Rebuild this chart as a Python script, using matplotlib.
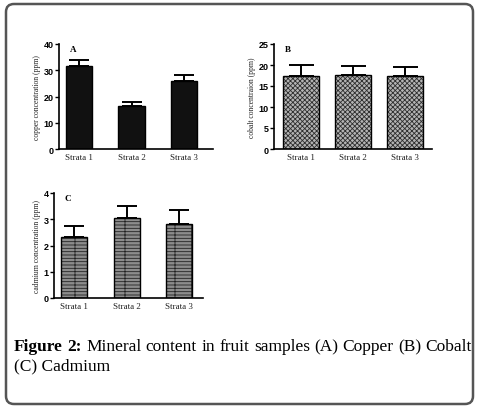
import matplotlib
matplotlib.use('Agg')
import matplotlib.pyplot as plt
from matplotlib.patches import FancyBboxPatch
from matplotlib.transforms import IdentityTransform

strata = ['Strata 1', 'Strata 2', 'Strata 3']
copper = [31.5, 16.4, 25.8]
copper_err = [2.3, 1.5, 2.3]
cobalt = [17.3, 17.6, 17.5]
cobalt_err = [2.8, 2.1, 2.0]
cadmium = [2.34, 3.05, 2.82]
cadmium_err = [0.39, 0.44, 0.54]

serif = ['Liberation Serif', 'DejaVu Serif']
sans = ['Liberation Sans', 'DejaVu Sans']
plt.rcParams['hatch.linewidth'] = 0.6

W, H = 478, 410
fig = plt.figure(figsize=(W / 100, H / 100), dpi=100)


def px(l, r, t, b):
    return [l / W, 1 - b / H, (r - l) / W, (b - t) / H]


def panel(rect, vals, errs, ymax, yticks, ylabel, letter, width, xlim, fc, hatch, hc, cap):
    ax = fig.add_axes(rect)
    x = range(len(vals))
    bars = ax.bar(x, vals, width=width, color=fc, edgecolor='black', linewidth=1.0,
                  hatch=hatch, zorder=2)
    for b in bars:
        b._hatch_color = matplotlib.colors.to_rgba(hc)
    ax.errorbar(x, vals, yerr=[[0] * len(vals), errs], fmt='none', ecolor='black',
                elinewidth=1.4, capsize=cap, capthick=1.4, zorder=1)
    ax.set_ylim(0, ymax)
    ax.set_xlim(*xlim)
    ax.set_yticks(yticks)
    ax.set_xticks(list(x))
    ax.set_xticklabels(strata, fontsize=6.5, family=serif, color='#222222')
    for t in ax.get_yticklabels():
        t.set_fontsize(6.5)
        t.set_fontweight('bold')
        t.set_family(sans)
    ax.set_ylabel(ylabel, fontsize=5.5, family=serif, labelpad=2, color='#222222')
    ax.spines['top'].set_visible(False)
    ax.spines['right'].set_visible(False)
    ax.spines['left'].set_linewidth(1.2)
    ax.spines['bottom'].set_linewidth(1.2)
    ax.tick_params(axis='y', length=3, width=1.0, pad=1)
    ax.tick_params(axis='x', length=0, pad=3)
    ax.text(0.07, 0.99, letter, transform=ax.transAxes, fontsize=6.5, fontweight='bold',
            family=serif, va='top', ha='left')
    return ax


panel(px(59, 213, 45, 150), copper, copper_err, 40, [0, 10, 20, 30, 40],
      'copper concentration (ppm)', 'A', 0.5, (-0.38, 2.55), '#111111', None, '#111111', 7)
panel(px(274, 432, 45, 150), cobalt, cobalt_err, 25, [0, 5, 10, 15, 20, 25],
      'cobalt concentraion (ppm)', 'B', 0.69, (-0.52, 2.51), '#b4b4b4', 'xxxxxxx', '#2e2e2e', 9)
panel(px(54, 203, 194, 299), cadmium, cadmium_err, 4, [0, 1, 2, 3, 4],
      'cadmium concentration (ppm)', 'C', 0.5, (-0.39, 2.46), '#8c8c8c', '-----|', '#222222', 7)

# caption, justified first line
renderer = fig.canvas.get_renderer()
line1 = [('Figure', 'bold'), ('2:', 'bold'), ('Mineral', 'normal'), ('content', 'normal'),
         ('in', 'normal'), ('fruit', 'normal'), ('samples', 'normal'), ('(A)', 'normal'),
         ('Copper', 'normal'), ('(B)', 'normal'), ('Cobalt', 'normal')]
x0, x1 = 14 / W, 472 / W
y1 = 1 - 351 / H
texts = []
for word, wt in line1:
    t = fig.text(0, y1, word, fontsize=12.5, fontweight=wt, family=serif, va='baseline')
    texts.append(t)
widths = [t.get_window_extent(renderer).width / W for t in texts]
gap = (x1 - x0 - sum(widths)) / (len(texts) - 1)
cx = x0
for t, w in zip(texts, widths):
    t.set_x(cx)
    cx += w + gap
fig.text(x0, 1 - 370 / H, '(C) Cadmium', fontsize=12.5, family=serif, va='baseline')

border = FancyBboxPatch((6, 5), 467, 400,
                        boxstyle='round,pad=0,rounding_size=8', transform=IdentityTransform(),
                        fill=False, edgecolor='#555555', linewidth=1.8)
fig.patches.append(border)

fig.savefig('out.png', dpi=100)
